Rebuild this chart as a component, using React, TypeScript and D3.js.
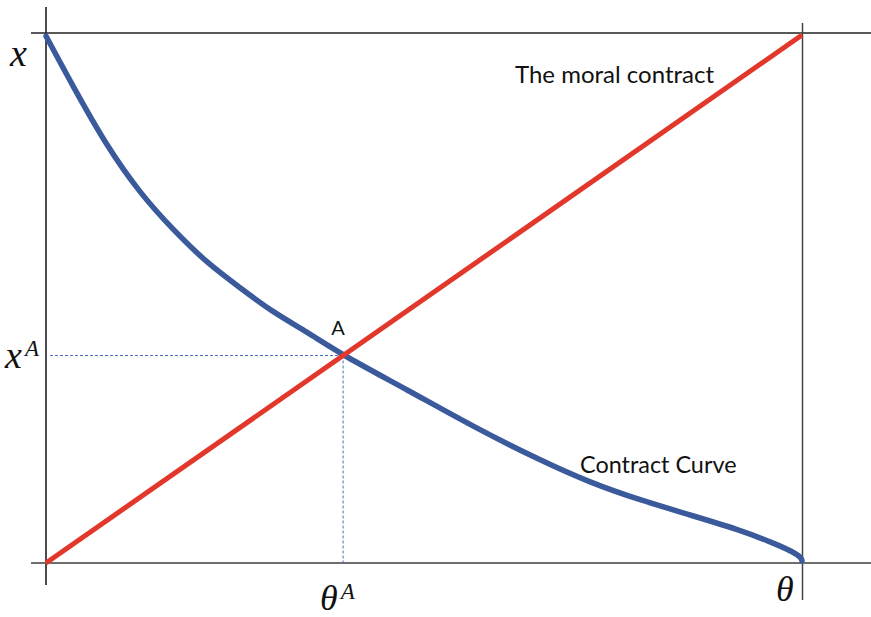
import React from "react";
import * as d3 from "d3";

// Contract curve: effort x as a function of type θ (normalised 0..1)
const contractTheta = [0, 0.036, 0.081, 0.124, 0.168, 0.213, 0.257, 0.3, 0.345, 0.393, 0.478, 0.565, 0.653, 0.72, 0.786, 0.852, 0.918, 0.962, 0.99, 0.999, 1.0];
const contractX = [0.998, 0.902, 0.788, 0.701, 0.631, 0.568, 0.521, 0.475, 0.438, 0.393, 0.328, 0.258, 0.195, 0.152, 0.119, 0.091, 0.0625, 0.038, 0.02, 0.01, 0.004];

// The moral contract: x rises one-for-one with θ
const moralTheta = [0, 1];
const moralX = [0, 1];

// Intersection point A
const pointA = { theta: 0.393, x: 0.393 };

const labels = {
  moral: "The moral contract",
  contract: "Contract Curve",
  a: "A",
};

const W = 871;
const H = 617;

export default function App() {
  const xs = d3.scaleLinear().domain([0, 1]).range([46, 802]);
  const ys = d3.scaleLinear().domain([0, 1]).range([563, 35]);

  const contractPts: [number, number][] = contractTheta.map((t, i) => [t, contractX[i]]);
  const moralPts: [number, number][] = moralTheta.map((t, i) => [t, moralX[i]]);

  const curvePath =
    d3
      .line<[number, number]>()
      .x((d) => xs(d[0]))
      .y((d) => ys(d[1]))
      .curve(d3.curveBasis)(contractPts) || "";
  const moralPath =
    d3
      .line<[number, number]>()
      .x((d) => xs(d[0]))
      .y((d) => ys(d[1]))(moralPts) || "";

  const ax = xs(pointA.theta);
  const ay = ys(pointA.x);
  const x0 = xs(0);
  const x1 = xs(1);
  const y0 = ys(0);
  const y1 = ys(1);

  const mathFont = "'Liberation Serif', 'DejaVu Serif', serif";
  const textFont = "Lato, 'Open Sans', sans-serif";

  return (
    <svg
      width={W}
      height={H}
      style={{ position: "absolute", left: 0, top: 0, background: "#fff" }}
    >
      {/* frame */}
      <line x1={x0} x2={x0} y1={7} y2={585} stroke="#111" strokeWidth={1.5} />
      <line x1={31} x2={W} y1={y1 - 2} y2={y1 - 2} stroke="#222" strokeWidth={1.5} />
      <line x1={x1 + 0.5} x2={x1 + 0.5} y1={23} y2={600} stroke="#444" strokeWidth={1.5} />
      <line x1={31} x2={W} y1={y0} y2={y0} stroke="#6e6e6e" strokeWidth={2} />

      {/* guides to A */}
      <line x1={x0 + 4} x2={ax} y1={ay} y2={ay} stroke="#4472c4" strokeWidth={1} strokeDasharray="3,2" />
      <line x1={ax} x2={ax} y1={ay} y2={y0} stroke="#4472c4" strokeWidth={1} strokeDasharray="3,2" />

      {/* curves */}
      <path d={curvePath} fill="none" stroke="#3a5a9b" strokeWidth={5.5} strokeLinecap="round" />
      <path d={moralPath} fill="none" stroke="#e2372b" strokeWidth={5} strokeLinecap="butt" />

      {/* text labels */}
      <text x={515} y={83} fontFamily={textFont} fontSize={24} fill="#111">{labels.moral}</text>
      <text x={580} y={473} fontFamily={textFont} fontSize={23.4} fill="#111">{labels.contract}</text>
      <text x={ax - 5} y={ay - 20} fontFamily={textFont} fontSize={20} fill="#111" textAnchor="middle">{labels.a}</text>

      {/* axis symbols */}
      <text x={10} y={66} fontFamily={mathFont} fontStyle="italic" fontSize={38} fill="#111">x</text>
      <text x={5} y={368} fontFamily={mathFont} fontStyle="italic" fontSize={38} fill="#111">
        x<tspan fontSize={23} dy={-12} dx={3}>A</tspan>
      </text>
      <text x={320} y={610} fontFamily={mathFont} fontStyle="italic" fontSize={36} fill="#111">
        θ<tspan fontSize={23} dy={-11} dx={3}>A</tspan>
      </text>
      <text x={776} y={601} fontFamily={mathFont} fontStyle="italic" fontSize={36} fill="#111">θ</text>
    </svg>
  );
}
